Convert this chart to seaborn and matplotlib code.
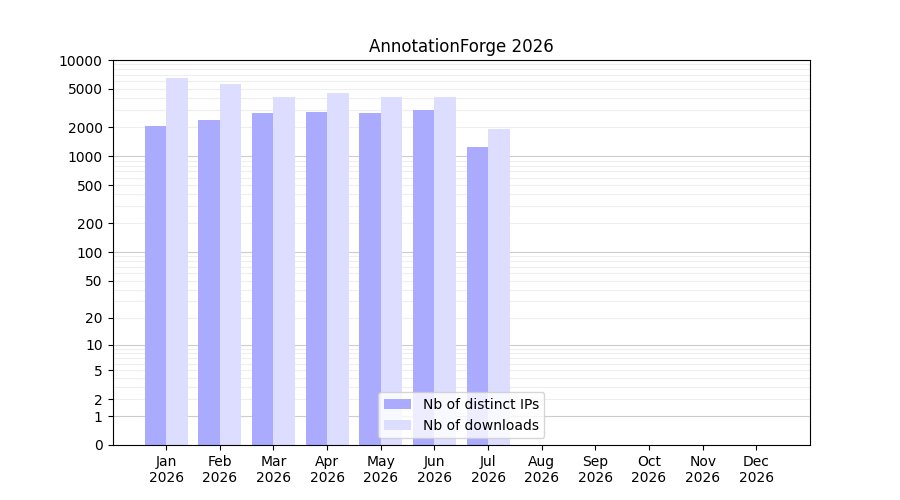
import numpy as np
import pandas as pd
import matplotlib
matplotlib.use("Agg")
import matplotlib.pyplot as plt
import seaborn as sns

months = ["Jan", "Feb", "Mar", "Apr", "May", "Jun", "Jul", "Aug", "Sep", "Oct", "Nov", "Dec"]
distinct_ips = [2060, 2380, 2815, 2880, 2815, 3025, 1247, 0, 0, 0, 0, 0]
downloads = [6500, 5630, 4130, 4540, 4130, 4130, 1920, 0, 0, 0, 0, 0]
ticks = [0, 1, 2, 5, 10, 20, 50, 100, 200, 500, 1000, 2000, 5000, 10000]

labels = [m + "\n2026" for m in months]
df = pd.DataFrame({
    "month": labels * 2,
    "value": distinct_ips + downloads,
    "series": ["Nb of distinct IPs"] * 12 + ["Nb of downloads"] * 12,
})

fig, ax = plt.subplots(figsize=(9, 5), dpi=100)
fwd = lambda x: np.log10(1 + np.clip(x, 0, None))
inv = lambda y: 10 ** y - 1
ax.set_yscale("function", functions=(fwd, inv))

# light grid lines, darker at decades
for dec in [1, 10, 100, 1000]:
    for k in range(2, 10):
        ax.axhline(dec * k, color="#eeeeee", lw=0.8, zorder=0)
for v in [1, 10, 100, 1000]:
    ax.axhline(v, color="#cccccc", lw=0.8, zorder=0)

sns.barplot(data=df, x="month", y="value", hue="series", order=labels,
            palette=["#aaaaff", "#ddddff"], width=0.8, saturation=1, ax=ax, zorder=2)
ax.set_ylim(0, 10000)
ax.set_yticks(ticks)
ax.set_yticklabels([str(t) for t in ticks])
ax.minorticks_off()
ax.set_xlim(-1, 12)
ax.set_xlabel("")
ax.set_ylabel("")
ax.set_title("AnnotationForge 2026")
ax.legend(loc="lower center")
fig.savefig("out.png")
